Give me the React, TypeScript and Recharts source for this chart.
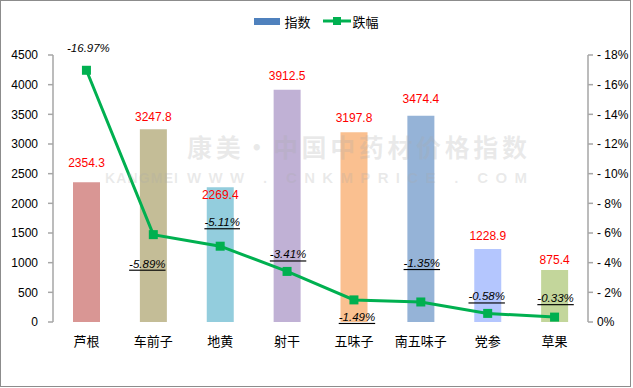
import React from "react"
import { ComposedChart, Bar, Line, XAxis, YAxis, Cell, Legend } from "recharts"

const categories = ["芦根", "车前子", "地黄", "射干", "五味子", "南五味子", "党参", "草果"]
// 指数
const indexValues = [2354.3, 3247.8, 2269.4, 3912.5, 3197.8, 3474.4, 1228.9, 875.4]
// 跌幅 (shown as declines, stored as magnitude)
const changeValues = [16.97, 5.89, 5.11, 3.41, 1.49, 1.35, 0.58, 0.33]
const leftTicks = [0, 500, 1000, 1500, 2000, 2500, 3000, 3500, 4000, 4500]
const rightTicks = [0, 2, 4, 6, 8, 10, 12, 14, 16, 18]

const barColors = ["#D99694", "#C4BD97", "#93CDDD", "#C0B1D5", "#FAC090", "#95B3D7", "#B4C6FE", "#C3D69B"]
// label placement tweaks (px)
const barLabelDy = [-19, -12, 8, -14, -14, -17, -13, -10]
const lineLabelShift = [
  [2, -22],
  [-6, 29],
  [2, -24],
  [1, -17],
  [3, 17],
  [1, -39],
  [-1, -17],
  [1, -19],
]

const data = categories.map((name, i) => ({
  name,
  index: indexValues[i],
  change: changeValues[i],
}))

const FONT = "'Liberation Sans', Arial, 'Noto Sans CJK SC', sans-serif"
const CJK = "'Noto Sans CJK SC', sans-serif"
const GREEN = "#00B050"
const AXIS = "#A6A6A6"

const BarLabel = (props: any) => {
  const { x, y, width, index, value } = props
  return (
    <text
      x={x + width / 2}
      y={y + barLabelDy[index]}
      textAnchor="middle"
      dominantBaseline="central"
      fill="#FF0000"
      fontSize={12}
      fontFamily={FONT}
    >
      {value}
    </text>
  )
}

const LineLabel = (props: any) => {
  const { x, y, index, value } = props
  const [dx, dy] = lineLabelShift[index]
  return (
    <text
      x={x + dx}
      y={y + dy}
      textAnchor="middle"
      dominantBaseline="central"
      fill="#000"
      fontSize={11.5}
      fontStyle="italic"
      fontFamily={FONT}
      style={{ textDecoration: index === 0 ? "none" : "underline" }}
    >
      {`-${value.toFixed(2)}%`}
    </text>
  )
}

const SquareDot = (props: any) => {
  const { cx, cy, index } = props
  return <rect key={`d${index}`} x={cx - 4.5} y={cy - 4.5} width={9} height={9} fill={GREEN} />
}

const LegendBox = () => (
  <div style={{ display: "flex", justifyContent: "center", alignItems: "center", height: 20, fontFamily: CJK, fontSize: 13 }}>
    <span style={{ display: "inline-block", width: 26, height: 7, background: "#4F81BD", marginRight: 4 }} />
    <span style={{ marginRight: 12 }}>指数</span>
    <svg width={28} height={10} style={{ marginRight: 2 }}>
      <line x1={0} y1={5} x2={28} y2={5} stroke={GREEN} strokeWidth={3} />
      <rect x={10} y={1} width={8} height={8} fill={GREEN} />
    </svg>
    <span>跌幅</span>
  </div>
)

export default function App() {
  return (
    <div style={{ position: "absolute", left: 0, top: 0, width: 633, height: 388, background: "#fff" }}>
      <div style={{ position: "absolute", left: 0, top: 0, width: 631, height: 387, border: "1px solid #8C8C8C", boxSizing: "border-box" }} />
      <ComposedChart width={633} height={388} data={data} margin={{ top: 35, right: 0, bottom: 36, left: 8 }}>
        <Legend verticalAlign="top" content={<LegendBox />} wrapperStyle={{ top: 11, left: 0, width: 633 }} />
        <XAxis
          xAxisId="grid"
          type="number"
          domain={[0, 8]}
          ticks={[0, 1, 2, 3, 4, 5, 6, 7, 8]}
          height={0}
          tickSize={5}
          tickFormatter={() => ""}
          stroke={AXIS}
          strokeWidth={1.5}
        />
        <XAxis
          xAxisId="cat"
          dataKey="name"
          height={30}
          axisLine={false}
          tickLine={false}
          tickMargin={9}
          interval={0}
          tick={{ fill: "#000", fontSize: 13, fontFamily: CJK }}
        />
        <YAxis
          yAxisId="left"
          width={45}
          domain={[0, 4500]}
          ticks={leftTicks}
          tickSize={5}
          tickMargin={10}
          stroke={AXIS}
          strokeWidth={1.5}
          tick={{ fill: "#000", fontSize: 12, fontFamily: FONT }}
        />
        <YAxis
          yAxisId="right"
          orientation="right"
          width={45}
          domain={[0, 18]}
          ticks={rightTicks}
          tickSize={5}
          tickMargin={4}
          stroke={AXIS}
          strokeWidth={1.5}
          tickFormatter={(v) => (v === 0 ? "0%" : `- ${v}%`)}
          tick={{ fill: "#000", fontSize: 12, fontFamily: FONT }}
        />
        <Bar xAxisId="cat" yAxisId="left" dataKey="index" barSize={27} isAnimationActive={false} label={BarLabel}>
          {data.map((d, i) => (
            <Cell key={d.name} fill={barColors[i]} />
          ))}
        </Bar>
        <Line
          xAxisId="cat"
          yAxisId="right"
          dataKey="change"
          stroke={GREEN}
          strokeWidth={3}
          dot={SquareDot}
          activeDot={false}
          isAnimationActive={false}
          label={LineLabel}
        />
      </ComposedChart>
      {/* watermark */}
      <svg width={633} height={388} style={{ position: "absolute", left: 0, top: 0, pointerEvents: "none" }}>
        <g fill="rgba(170,170,170,0.25)" fontWeight={700}>
          <text x={187} y={157} fontSize={25} fontFamily={CJK} textLength={340} lengthAdjust="spacing">
            康美·中国中药材价格指数
          </text>
          <text x={105} y={183} fontSize={14} fontFamily={FONT} textLength={73} lengthAdjust="spacing">
            KANGMEI
          </text>
          <text x={187} y={183} fontSize={15} fontFamily={FONT} textLength={340} lengthAdjust="spacing">
            WWW . CNKMPRICE . COM
          </text>
        </g>
      </svg>
    </div>
  )
}
